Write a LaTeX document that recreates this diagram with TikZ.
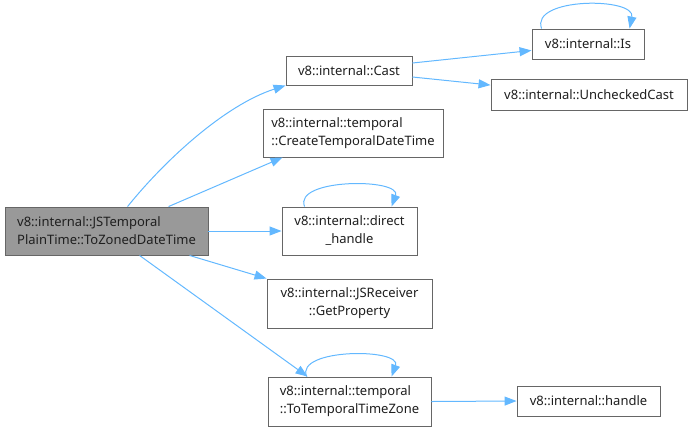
\documentclass[tikz,border=0pt]{standalone}
\usepackage{fontspec}
\setmainfont{Noto Sans}
\usetikzlibrary{arrows.meta,calc}
\definecolor{edgeblue}{HTML}{63B8FF}
\definecolor{boxline}{HTML}{666666}
\definecolor{mainfill}{HTML}{999999}
\begin{document}
\begin{tikzpicture}[x=1bp,y=-1bp,
  box/.style={draw=boxline,line width=0.9bp,fill=white,inner sep=0pt,font=\fontsize{13bp}{18bp}\selectfont,text=black!88},
  edge/.style={draw=edgeblue,line width=1bp,-{Triangle[length=12bp,width=9bp]}}]
\useasboundingbox (0,0) rectangle (692,431);
\node[box,fill=mainfill,minimum width=203bp,minimum height=48bp,align=left] (main) at (106.5,231) {v8::internal::JSTemporal\\PlainTime::ToZonedDateTime};
\node[box,minimum width=126bp,minimum height=29bp] (cast) at (349,70.5) {v8::internal::Cast};
\node[box,minimum width=180bp,minimum height=48bp,align=left] (create) at (353,133) {v8::internal::temporal\\::CreateTemporalDateTime};
\node[box,minimum width=135bp,minimum height=48bp,align=center] (direct) at (349.5,231) {v8::internal::direct\\\_handle};
\node[box,minimum width=165bp,minimum height=49bp,align=center] (jsr) at (349.5,303.5) {v8::internal::JSReceiver\\::GetProperty};
\node[box,minimum width=163bp,minimum height=49bp,align=left] (totz) at (349.5,401.5) {v8::internal::temporal\\::ToTemporalTimeZone};
\node[box,minimum width=112bp,minimum height=30bp] (is) at (588,44) {v8::internal::Is};
\node[box,minimum width=196bp,minimum height=31bp] (unchecked) at (589,95) {v8::internal::UncheckedCast};
\node[box,minimum width=143bp,minimum height=30bp] (handle) at (588.5,401) {v8::internal::handle};
% edges from main
\draw[edge] ($(main.north west)+(123,0)$) .. controls (165,160) and (225,105) .. (cast.south west);
\draw[edge] ($(main.north west)+(164,0)$) -- ($(create.south west)+(20,0)$);
\draw[edge] (main.east) -- (direct.west);
\draw[edge] ($(main.south west)+(185,0)$) -- (jsr.north west);
\draw[edge] ($(main.south west)+(135,0)$) -- ($(totz.north west)+(40,0)$);
% from cast
\draw[edge] ($(cast.east)+(0,-7.5)$) -- ($(is.south west)+(0,-9)$);
\draw[edge] ($(cast.east)+(0,6.5)$) -- ($(unchecked.north west)+(0,6)$);
% totz -> handle
\draw[edge] (totz.east) -- (handle.west);
% self loops
\draw[edge] ($(is.north west)+(10,0)$) .. controls (530,-3) and (636,-3) .. ($(is.north west)+(98,0)$);
\draw[edge] ($(direct.north west)+(23,0)$) .. controls (293,178) and (402,178) .. ($(direct.north west)+(110,0)$);
\draw[edge] ($(totz.north west)+(39,0)$) .. controls (295,348) and (402,348) .. ($(totz.north west)+(124,0)$);
\end{tikzpicture}
\end{document}
